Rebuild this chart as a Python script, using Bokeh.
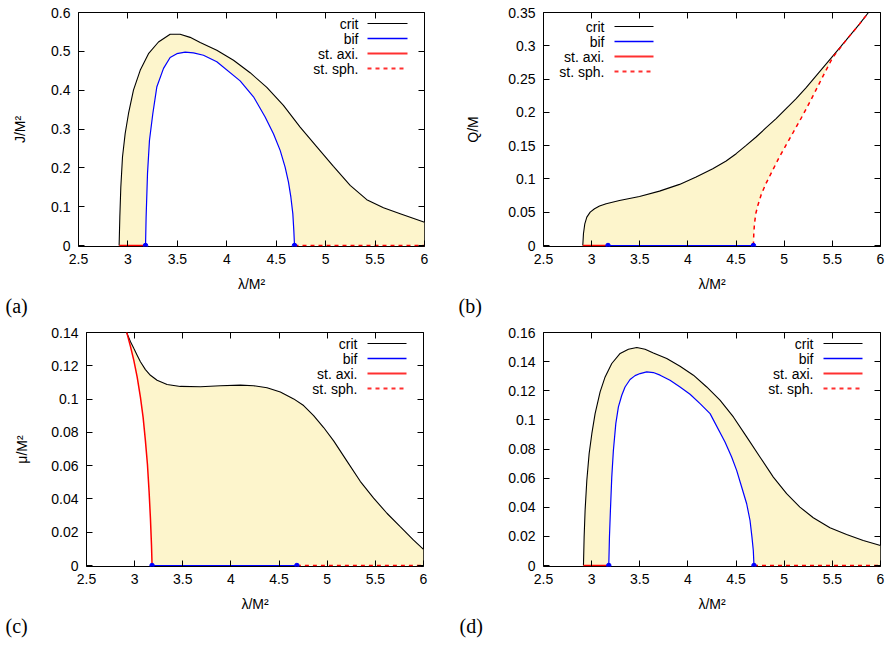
import math
from bokeh.plotting import figure
from bokeh.layouts import column, row
from bokeh.models import Label, Arrow, LinearAxis, FixedTicker, Range1d, Title
from bokeh.embed import file_html
from bokeh.resources import INLINE

# ---------------- data ----------------
x_ticks = [2.5, 3, 3.5, 4, 4.5, 5, 5.5, 6]
x_tick_labels = ["2.5", "3", "3.5", "4", "4.5", "5", "5.5", "6"]

# (a) J/M^2
a_y_ticks = [0, 0.1, 0.2, 0.3, 0.4, 0.5, 0.6]
a_y_tick_labels = ["0", "0.1", "0.2", "0.3", "0.4", "0.5", "0.6"]
a_crit_x = [2.911, 2.918, 2.928, 2.945, 2.972, 3.006, 3.056, 3.124, 3.208, 3.309, 3.427, 3.528,
            3.629, 3.731, 3.899, 4.068, 4.236, 4.405, 4.573, 4.742, 4.911, 5.079, 5.248,
            5.416, 5.585, 5.754, 6.0]
a_crit_y = [0.0, 0.073, 0.150, 0.228, 0.288, 0.340, 0.400, 0.451, 0.494, 0.524, 0.544, 0.544,
            0.536, 0.523, 0.503, 0.477, 0.445, 0.407, 0.361, 0.305, 0.254, 0.204, 0.155,
            0.118, 0.097, 0.082, 0.060]
a_bif_x = [3.178, 3.184, 3.198, 3.218, 3.252, 3.292, 3.360, 3.427, 3.495, 3.579, 3.663, 3.764,
           3.899, 4.135, 4.270, 4.388, 4.472, 4.540, 4.590, 4.624, 4.648, 4.668, 4.678, 4.685]
a_bif_y = [0.0, 0.073, 0.185, 0.271, 0.340, 0.408, 0.456, 0.484, 0.494, 0.498, 0.496, 0.490,
           0.473, 0.424, 0.383, 0.331, 0.288, 0.245, 0.202, 0.163, 0.125, 0.082, 0.039, 0.0]
a_axi_x = [2.911, 3.178]
a_axi_y = [0.0, 0.0]
a_sph_x = [4.685, 6.0]
a_sph_y = [0.0, 0.0]
a_pts_x = [3.178, 4.685]
a_pts_y = [0.0, 0.0]

# (b) Q/M
b_y_ticks = [0, 0.05, 0.1, 0.15, 0.2, 0.25, 0.3, 0.35]
b_y_tick_labels = ["0", "0.05", "0.1", "0.15", "0.2", "0.25", "0.3", "0.35"]
b_crit_x = [2.908, 2.915, 2.929, 2.950, 2.985, 3.030, 3.082, 3.151, 3.289, 3.497, 3.705, 3.913,
            4.085, 4.258, 4.397, 4.501, 4.605, 4.708, 4.812, 4.916, 5.020, 5.124, 5.228,
            5.366, 5.504, 5.643, 5.781, 5.875]
b_crit_y = [0.0, 0.0176, 0.0326, 0.0426, 0.0502, 0.0552, 0.0592, 0.0627, 0.0677, 0.0737,
            0.0817, 0.0918, 0.1028, 0.1153, 0.1269, 0.1379, 0.1505, 0.1630, 0.1770, 0.1906,
            0.2056, 0.2207, 0.2372, 0.2608, 0.2844, 0.3084, 0.3325, 0.35]
b_bif_x = [3.17, 4.68]
b_bif_y = [0.0, 0.0]
b_axi_x = [2.908, 3.17]
b_axi_y = [0.0, 0.0]
b_sph_x = [4.68, 4.684, 4.691, 4.705, 4.726, 4.76, 4.81, 4.88, 4.95, 5.02, 5.09, 5.16, 5.228,
           5.30, 5.366, 5.43, 5.504, 5.643, 5.781, 5.875]
b_sph_y = [0.0, 0.0176, 0.0326, 0.048, 0.060, 0.076, 0.093, 0.113, 0.133, 0.151, 0.169,
           0.187, 0.205, 0.225, 0.244, 0.262, 0.2825, 0.3084, 0.3325, 0.35]
b_pts_x = [3.17, 4.68]
b_pts_y = [0.0, 0.0]

# (c) mu/M^2
c_y_ticks = [0, 0.02, 0.04, 0.06, 0.08, 0.1, 0.12, 0.14]
c_y_tick_labels = ["0", "0.02", "0.04", "0.06", "0.08", "0.1", "0.12", "0.14"]
c_crit_x = [2.916, 2.922, 2.957, 2.991, 3.026, 3.060, 3.112, 3.164, 3.233, 3.337, 3.475, 3.683,
            3.891, 4.098, 4.236, 4.375, 4.513, 4.652, 4.755, 4.859, 4.963, 5.067, 5.205,
            5.343, 5.482, 5.620, 5.758, 5.897, 6.0]
c_crit_y = [0.1405, 0.1392, 0.1345, 0.1305, 0.1264, 0.1224, 0.1177, 0.1143, 0.1113, 0.1088,
            0.1076, 0.1074, 0.1080, 0.1084, 0.1080, 0.1068, 0.1042, 0.1001, 0.0961, 0.0900,
            0.0829, 0.0749, 0.0627, 0.0506, 0.0405, 0.0314, 0.0233, 0.0152, 0.0097]
c_axi_x = [2.916, 2.922, 2.957, 2.991, 3.026, 3.060, 3.088, 3.112, 3.133, 3.150, 3.164, 3.175,
           3.181]
c_axi_y = [0.1405, 0.1392, 0.1315, 0.1234, 0.1133, 0.1012, 0.0890, 0.0749, 0.0607, 0.0445,
           0.0283, 0.0121, 0.0]
c_bif_x = [3.181, 4.685]
c_bif_y = [0.0, 0.0]
c_sph_x = [4.685, 6.0]
c_sph_y = [0.0, 0.0]
c_pts_x = [3.181, 4.685]
c_pts_y = [0.0, 0.0]

# (d) omega_H M
d_y_ticks = [0, 0.02, 0.04, 0.06, 0.08, 0.1, 0.12, 0.14, 0.16]
d_y_tick_labels = ["0", "0.02", "0.04", "0.06", "0.08", "0.1", "0.12", "0.14", "0.16"]
d_crit_x = [2.915, 2.922, 2.932, 2.950, 2.974, 3.002, 3.036, 3.088, 3.140, 3.209, 3.296, 3.382,
            3.469, 3.555, 3.641, 3.780, 3.918, 4.057, 4.195, 4.333, 4.472, 4.610, 4.748,
            4.887, 5.025, 5.163, 5.302, 5.475, 5.648, 5.821, 6.0]
d_crit_y = [0.0, 0.0195, 0.0378, 0.0585, 0.0768, 0.0905, 0.1043, 0.1192, 0.1295, 0.1387,
            0.1456, 0.1485, 0.1497, 0.1485, 0.1460, 0.1421, 0.1368, 0.1307, 0.1226, 0.1135,
            0.1020, 0.0883, 0.0745, 0.0607, 0.0493, 0.0401, 0.0328, 0.0259, 0.0213, 0.0172,
            0.0138]
d_bif_x = [3.178, 3.185, 3.195, 3.209, 3.226, 3.251, 3.278, 3.313, 3.347, 3.399, 3.451, 3.503,
           3.572, 3.641, 3.711, 3.814, 3.918, 4.022, 4.126, 4.230, 4.385, 4.454, 4.506, 4.558,
           4.610, 4.645, 4.665, 4.679, 4.686]
d_bif_y = [0.0, 0.0195, 0.0378, 0.0607, 0.0791, 0.0974, 0.1089, 0.1169, 0.1226, 0.1277,
           0.1304, 0.1318, 0.1330, 0.1325, 0.1307, 0.1272, 0.1226, 0.1176, 0.1112, 0.1043,
           0.0848, 0.0745, 0.0653, 0.0539, 0.0424, 0.0309, 0.0195, 0.0103, 0.0]
d_axi_x = [2.915, 3.178]
d_axi_y = [0.0, 0.0]
d_sph_x = [4.686, 6.0]
d_sph_y = [0.0, 0.0]
d_pts_x = [3.178, 4.686]
d_pts_y = [0.0, 0.0]

legend_names = ["crit", "bif", "st. axi.", "st. sph."]

# ---------------- styles ----------------
FILL = "#fdf5cc"
SANS = "Liberation Sans"
SERIF = "Liberation Serif"
FS = "14px"


def overrides(ticks, labels):
    return {t: l for t, l in zip(ticks, labels)}


def style_axis(ax, ticks, labels, show):
    ax.ticker = FixedTicker(ticks=ticks)
    ax.major_label_overrides = overrides(ticks, labels)
    ax.axis_line_color = None
    ax.major_tick_in = 6
    ax.major_tick_out = 0
    ax.major_tick_line_color = "black"
    ax.minor_tick_line_color = None
    ax.major_label_text_font = SANS
    ax.major_label_text_color = "black"
    if show:
        ax.major_label_text_font_size = FS
    else:
        ax.major_label_text_font_size = "0px"
        ax.major_label_standoff = 0


def panel(w, h, bl, br, bt, bb, ymax, yticks, ylabels, ylab, ylab_standoff,
          crit, bif, axi, sph, pts, leg, tag, tag_off):
    fh = h - bt - bb
    y0 = -ymax / (fh - 1)
    p = figure(width=w, height=h, x_range=Range1d(2.5, 6), y_range=Range1d(y0, ymax),
               output_backend="svg", toolbar_location=None,
               min_border_left=bl, min_border_right=br, min_border_top=bt,
               min_border_bottom=bb, background_fill_color="white",
               border_fill_color="white")
    p.outline_line_color = "black"
    p.outline_line_width = 1
    p.xgrid.visible = False
    p.ygrid.visible = False

    style_axis(p.xaxis[0], x_ticks, x_tick_labels, True)
    style_axis(p.yaxis[0], yticks, ylabels, True)
    p.xaxis[0].major_label_standoff = 7
    p.yaxis[0].major_label_standoff = 8
    p.xaxis[0].axis_label = "λ/M²"
    p.xaxis[0].axis_label_standoff = 9
    p.yaxis[0].axis_label = ylab
    p.yaxis[0].axis_label_standoff = ylab_standoff
    for ax in (p.xaxis[0], p.yaxis[0]):
        ax.axis_label_text_font = SANS
        ax.axis_label_text_font_size = FS
        ax.axis_label_text_font_style = "normal"
        ax.axis_label_text_color = "black"
    top = LinearAxis()
    style_axis(top, x_ticks, x_tick_labels, False)
    right = LinearAxis()
    style_axis(right, yticks, ylabels, False)
    p.add_layout(top, "above")
    p.add_layout(right, "right")

    # fill between crit (upper) and lower boundary (axi, bif, sph)
    px = list(crit[0]) + list(sph[0])[::-1] + list(bif[0])[::-1] + list(axi[0])[::-1]
    py = list(crit[1]) + list(sph[1])[::-1] + list(bif[1])[::-1] + list(axi[1])[::-1]
    p.patch(px, py, fill_color=FILL, line_color=None)

    p.line(crit[0], crit[1], line_color="black", line_width=1.1)
    p.line(bif[0], bif[1], line_color="#0000ff", line_width=1.2)
    p.line(axi[0], axi[1], line_color="#ff0000", line_width=1.5)
    p.line(sph[0], sph[1], line_color="#ff0000", line_width=1.5, line_dash="4 4")
    p.scatter(pts[0], pts[1], size=4.5, marker="circle", fill_color="#0000ff",
              line_color="#0000ff")

    # legend (gnuplot style: text right-aligned, sample to the right)
    tx, lx0, lx1, rows = leg
    styles = [("black", 1.1, "solid"), ("#0000ff", 1.5, "solid"),
              ("#ff3030", 2.0, "solid"), ("#ff3030", 2.0, "4 4")]
    for name, ry, (col, lw, dash) in zip(legend_names, rows, styles):
        sy = fh - ry
        p.add_layout(Label(x=tx, y=sy, x_units="screen", y_units="screen", text=name,
                           text_font=SANS, text_font_size=FS, text_align="right",
                           text_baseline="middle", text_color="black"))
        p.add_layout(Arrow(x_start=lx0, y_start=sy, x_end=lx1, y_end=sy,
                           start_units="screen", end_units="screen", start=None, end=None,
                           line_color=col, line_width=lw, line_dash=dash))
    # panel tag as a title below the x axis
    t = Title(text=tag, align="left", offset=tag_off, standoff=0, text_font=SERIF,
              text_font_size="20px", text_font_style="normal", text_color="black",
              vertical_align="top")
    p.add_layout(t, "below")
    return p


pa = panel(446, 322, 78, 22, 12, 76, 0.6, a_y_ticks, a_y_tick_labels, "J/M²", 20,
           (a_crit_x, a_crit_y), (a_bif_x, a_bif_y), (a_axi_x, a_axi_y), (a_sph_x, a_sph_y),
           (a_pts_x, a_pts_y), (280, 289, 329, [11, 26, 41, 56]), "(a)", -73)
pb = panel(447, 322, 97, 13, 12, 76, 0.35, b_y_ticks, b_y_tick_labels, "Q/M", 24,
           (b_crit_x, b_crit_y), (b_bif_x, b_bif_y), (b_axi_x, b_axi_y), (b_sph_x, b_sph_y),
           (b_pts_x, b_pts_y), (61, 71, 110, [14, 29, 44, 59]), "(b)", -85)
pc = panel(446, 335, 86, 23, 10, 91, 0.14, c_y_ticks, c_y_tick_labels, "μ/M²", 18,
           (c_crit_x, c_crit_y), (c_bif_x, c_bif_y), (c_axi_x, c_axi_y), (c_sph_x, c_sph_y),
           (c_pts_x, c_pts_y), (271, 281, 320, [11, 26, 41, 56]), "(c)", -81)
pd = panel(447, 335, 97, 13, 10, 91, 0.16, d_y_ticks, d_y_tick_labels, "", 0,
           (d_crit_x, d_crit_y), (d_bif_x, d_bif_y), (d_axi_x, d_axi_y), (d_sph_x, d_sph_y),
           (d_pts_x, d_pts_y), (270, 280, 319, [11, 26, 41, 56]), "(d)", -84)

# manual y label for (d): omega_H M
for txt, xx, yy, fs in [("ω", -65, 99, FS), ("H", -62, 110, "10px"), ("M", -65, 121, FS)]:
    pd.add_layout(Label(x=xx, y=yy, x_units="screen", y_units="screen", text=txt,
                        angle=math.pi / 2, text_font=SANS, text_font_size=fs,
                        text_align="left", text_baseline="middle", text_color="black"))

layout = column(row(pa, pb), row(pc, pd))
open("out.html", "w").write(file_html(layout, INLINE))
